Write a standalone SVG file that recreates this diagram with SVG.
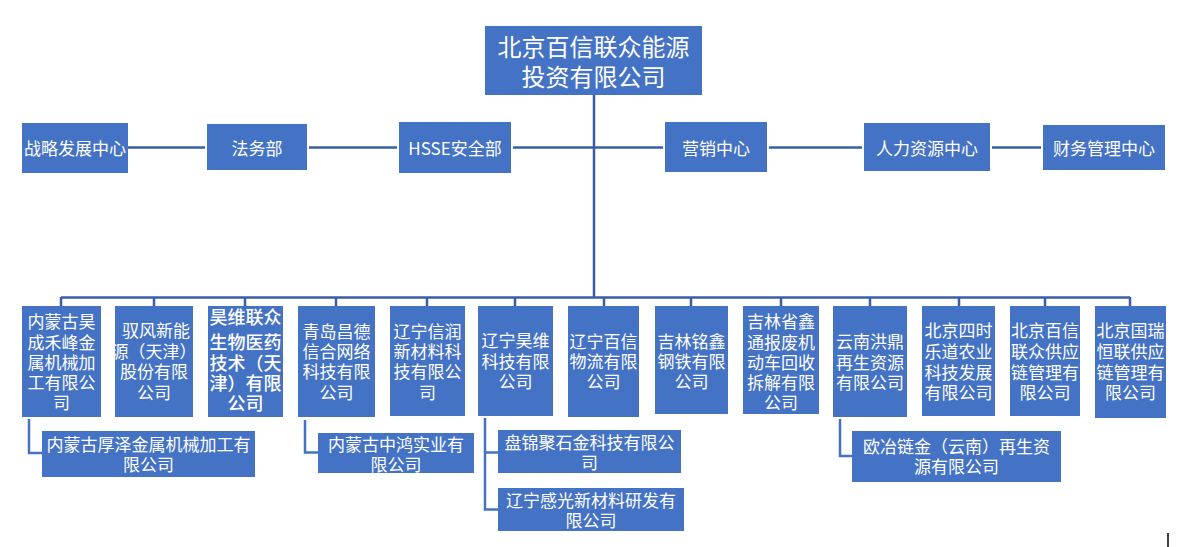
<svg xmlns="http://www.w3.org/2000/svg" width="1180" height="547" viewBox="0 0 1180 547">
<style>
.box{fill:#4472C4}
.t{fill:#fff;font-family:"Noto Sans CJK SC","Liberation Sans",sans-serif;font-size:17px;text-anchor:middle;dominant-baseline:central}
.big{font-size:24px}
.b3{font-size:18px;font-weight:500}
.ln{stroke:#3A5DA8;stroke-width:2.5;fill:none}
.sub{stroke:#4472C4;stroke-width:2.5;fill:none}
</style>
<rect width="1180" height="547" fill="#fff"/>
<g id="connectors">
<line class="ln" x1="594" y1="95" x2="594" y2="298"/>
<line class="ln" x1="128" y1="147.5" x2="205" y2="147.5"/>
<line class="ln" x1="309" y1="147.5" x2="397" y2="147.5"/>
<line class="ln" x1="513" y1="147.5" x2="663" y2="147.5"/>
<line class="ln" x1="769" y1="147.5" x2="862" y2="147.5"/>
<line class="ln" x1="992" y1="147.5" x2="1041" y2="147.5"/>
<line class="ln" x1="61" y1="297.5" x2="1130" y2="297.5"/>
<path class="ln" d="M61 297v9M154 297v9M245 297v9M336 297v9M427 297v9M515 297v9M604 297v9M691 297v9M781 297v9M870 297v9M959 297v9M1045 297v9M1130 297v9"/>
<path class="sub" d="M29 419V453H42"/>
<path class="sub" d="M305 420V452.5H318"/>
<path class="sub" d="M485 418V509.5H498M485 452.5H498"/>
<path class="sub" d="M840 419V456H852"/>
</g>
<g id="root"><rect class="box" x="485" y="26" width="217" height="69"/>
<text class="t big" x="593.5" y="45">北京百信联众能源</text><text class="t big" x="593.5" y="75">投资有限公司</text></g>
<g id="d1"><rect class="box" x="22" y="123" width="106" height="50"/><text class="t" x="75" y="147">战略发展中心</text></g>
<g id="d2"><rect class="box" x="207" y="124" width="100" height="46"/><text class="t" x="257" y="147">法务部</text></g>
<g id="d3"><rect class="box" x="399" y="122" width="112" height="51"/><text class="t" x="455" y="147">HSSE安全部</text></g>
<g id="d4"><rect class="box" x="665" y="122" width="102" height="50"/><text class="t" x="716" y="147">营销中心</text></g>
<g id="d5"><rect class="box" x="864" y="123" width="126" height="48"/><text class="t" x="927" y="147">人力资源中心</text></g>
<g id="d6"><rect class="box" x="1043" y="125" width="122" height="45"/><text class="t" x="1104" y="147">财务管理中心</text></g>
<g id="c1"><rect class="box" x="22" y="306" width="79" height="111"/>
<text class="t" x="61.5" y="320">内蒙古昊</text><text class="t" x="61.5" y="341">成禾峰金</text><text class="t" x="61.5" y="361">属机械加</text><text class="t" x="61.5" y="381">工有限公</text><text class="t" x="61.5" y="401">司</text></g>
<g id="c2"><rect class="box" x="115" y="306" width="78" height="111"/>
<text class="t" x="156" y="329">驭风新能</text><text class="t" x="154" y="350">源（天津）</text><text class="t" x="154" y="370">股份有限</text><text class="t" x="154" y="391">公司</text></g>
<g id="c3"><rect class="box" x="208" y="306" width="75" height="111"/>
<text class="t b3" x="245.5" y="316">昊维联众</text><text class="t b3" x="245.5" y="341">生物医药</text><text class="t b3" x="245.5" y="362">技术（天</text><text class="t b3" x="245.5" y="382">津）有限</text><text class="t b3" x="245.5" y="402">公司</text></g>
<g id="c4"><rect class="box" x="298" y="306" width="77" height="111"/>
<text class="t" x="336.5" y="330">青岛昌德</text><text class="t" x="336.5" y="350">信合网络</text><text class="t" x="336.5" y="370">科技有限</text><text class="t" x="336.5" y="391">公司</text></g>
<g id="c5"><rect class="box" x="390" y="306" width="75" height="110"/>
<text class="t" x="427.5" y="330">辽宁信润</text><text class="t" x="427.5" y="350">新材料科</text><text class="t" x="427.5" y="370">技有限公</text><text class="t" x="427.5" y="391">司</text></g>
<g id="c6"><rect class="box" x="478" y="306" width="75" height="110"/>
<text class="t" x="515.5" y="339">辽宁昊维</text><text class="t" x="515.5" y="360">科技有限</text><text class="t" x="515.5" y="380">公司</text></g>
<g id="c7"><rect class="box" x="568" y="306" width="71" height="111"/>
<text class="t" x="603.5" y="340">辽宁百信</text><text class="t" x="603.5" y="360">物流有限</text><text class="t" x="603.5" y="380">公司</text></g>
<g id="c8"><rect class="box" x="655" y="306" width="73" height="108"/>
<text class="t" x="691.5" y="340">吉林铭鑫</text><text class="t" x="691.5" y="360">钢铁有限</text><text class="t" x="691.5" y="380">公司</text></g>
<g id="c9"><rect class="box" x="743" y="306" width="76" height="108"/>
<text class="t" x="781" y="320">吉林省鑫</text><text class="t" x="781" y="341">通报废机</text><text class="t" x="781" y="361">动车回收</text><text class="t" x="781" y="381">拆解有限</text><text class="t" x="781" y="401">公司</text></g>
<g id="c10"><rect class="box" x="833" y="306" width="74" height="111"/>
<text class="t" x="870" y="340">云南洪鼎</text><text class="t" x="870" y="361">再生资源</text><text class="t" x="870" y="381">有限公司</text></g>
<g id="c11"><rect class="box" x="922" y="306" width="73" height="110"/>
<text class="t" x="958.5" y="329">北京四时</text><text class="t" x="958.5" y="350">乐道农业</text><text class="t" x="958.5" y="371">科技发展</text><text class="t" x="958.5" y="391">有限公司</text></g>
<g id="c12"><rect class="box" x="1010" y="306" width="70" height="110"/>
<text class="t" x="1045" y="329">北京百信</text><text class="t" x="1045" y="350">联众供应</text><text class="t" x="1045" y="371">链管理有</text><text class="t" x="1045" y="391">限公司</text></g>
<g id="c13"><rect class="box" x="1095" y="306" width="71" height="112"/>
<text class="t" x="1130.5" y="329">北京国瑞</text><text class="t" x="1130.5" y="350">恒联供应</text><text class="t" x="1130.5" y="371">链管理有</text><text class="t" x="1130.5" y="391">限公司</text></g>
<g id="s1"><rect class="box" x="42" y="431" width="213" height="46"/>
<text class="t" x="148.5" y="443">内蒙古厚泽金属机械加工有</text><text class="t" x="148.5" y="463">限公司</text></g>
<g id="s2"><rect class="box" x="318" y="433" width="156" height="40"/>
<text class="t" x="396" y="443">内蒙古中鸿实业有</text><text class="t" x="396" y="463">限公司</text></g>
<g id="s3"><rect class="box" x="498" y="430" width="183" height="43"/>
<text class="t" x="589.5" y="441.5">盘锦聚石金科技有限公</text><text class="t" x="589.5" y="461.5">司</text></g>
<g id="s4"><rect class="box" x="498" y="488" width="186" height="43"/>
<text class="t" x="591" y="499">辽宁感光新材料研发有</text><text class="t" x="591" y="519">限公司</text></g>
<g id="s5"><rect class="box" x="852" y="431" width="209" height="51"/>
<text class="t" x="956.5" y="445">欧冶链金（云南）再生资</text><text class="t" x="956.5" y="465">源有限公司</text></g>
<line x1="1168" y1="533" x2="1168" y2="547" stroke="#000" stroke-width="1.5"/>
</svg>
